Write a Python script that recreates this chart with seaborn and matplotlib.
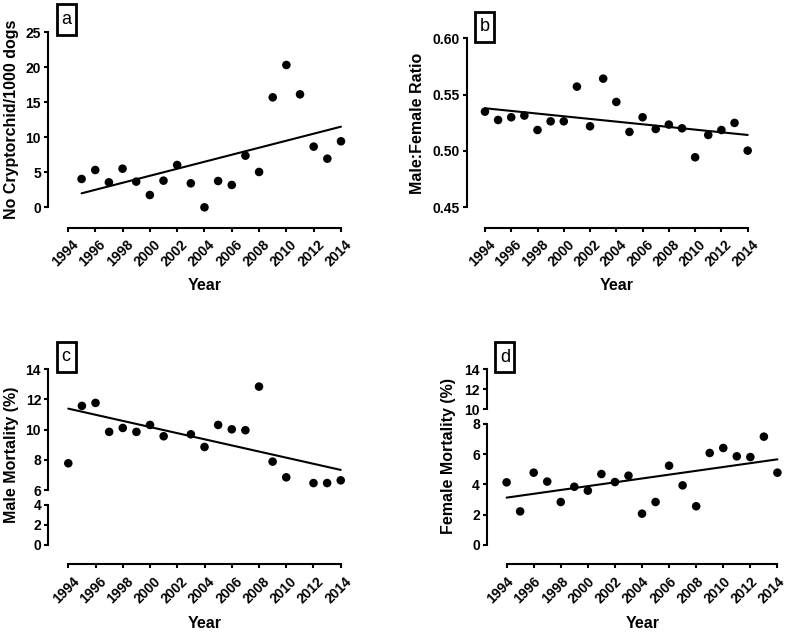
import numpy as np
import pandas as pd
import seaborn as sns
import matplotlib.pyplot as plt
from matplotlib.patches import Rectangle
from matplotlib.transforms import ScaledTranslation

# ---- data ----
crypto_years = list(range(1995, 2015))
crypto_rate = [4.05, 5.33, 3.57, 5.52, 3.67, 1.76, 3.81, 6.05, 3.43, 0.0,
               3.76, 3.19, 7.38, 5.05, 15.71, 20.33, 16.14, 8.67, 6.95, 9.43]
crypto_trend_years = [1995, 2014]
crypto_trend = [2.0, 11.52]

ratio_years = list(range(1994, 2015))
ratio_vals = [0.5349, 0.5275, 0.5299, 0.5314, 0.5186, 0.5263, 0.5263, 0.5571,
              0.5219, 0.5642, 0.5435, 0.5169, 0.5299, 0.5195, 0.5234, 0.5201,
              0.4944, 0.5142, 0.5186, 0.5249, 0.5003]
ratio_trend_years = [1994, 2014]
ratio_trend = [0.5379, 0.5142]

male_years = [1994, 1995, 1996, 1997, 1998, 1999, 2000, 2001, 2003, 2004,
              2005, 2006, 2007, 2008, 2009, 2010, 2012, 2013, 2014]
male_mort = [7.77, 11.57, 11.77, 9.85, 10.11, 9.85, 10.31, 9.56, 9.69, 8.85,
             10.31, 10.02, 9.96, 12.85, 7.88, 6.84, 6.46, 6.46, 6.64]
male_trend_years = [1994, 2014]
male_trend = [11.39, 7.33]

female_years = list(range(1994, 2015))
female_mort = [4.14, 2.22, 4.78, 4.19, 2.84, 3.85, 3.59, 4.69, 4.16, 4.58,
               2.07, 2.84, 5.24, 3.94, 2.56, 6.08, 6.41, 5.86, 5.81, 7.16, 4.78]
female_trend_years = [1994, 2014]
female_trend = [3.13, 5.66]

year_ticks = list(range(1994, 2015, 2))

sns.set_theme(style="ticks")
plt.rcParams["font.family"] = ["Liberation Sans", "DejaVu Sans"]
plt.rcParams["font.weight"] = "bold"

W, H = 787, 633
fig = plt.figure(figsize=(W / 100, H / 100), dpi=100)


def add_ax(left, right, top, bottom):
    return fig.add_axes([left / W, 1 - bottom / H, (right - left) / W, (bottom - top) / H])


def style(ax, xlim, ylim, yticks, ybounds, xaxis=True, xshift=2.5):
    ax.set_xlim(*xlim)
    ax.set_ylim(*ylim)
    sns.despine(ax=ax)
    for s in ("left", "bottom"):
        ax.spines[s].set_linewidth(1.5)
        ax.spines[s].set_color("black")
    ax.spines["left"].set_bounds(*ybounds)
    ax.set_yticks(yticks)
    ax.tick_params(axis="both", length=3.2, width=1.5, color="black",
                   labelsize=10, pad=1.8, labelcolor="black")
    for lab in ax.get_yticklabels():
        lab.set_fontweight("bold")
    if xaxis:
        ax.spines["bottom"].set_bounds(1994, 2014)
        ax.set_xticks(year_ticks)
        ax.set_xticklabels([str(y) for y in year_ticks], rotation=45, ha="right",
                           va="top", rotation_mode="anchor", fontweight="bold")
        off = ScaledTranslation(xshift / 72, -2 / 72, fig.dpi_scale_trans)
        for lab in ax.get_xticklabels():
            lab.set_transform(lab.get_transform() + off)
    else:
        ax.spines["bottom"].set_visible(False)
        ax.set_xticks([])
    ax.set_xlabel("")
    ax.set_ylabel("")
    ax.patch.set_alpha(0)


def points(ax, x, y, tx, ty):
    sns.scatterplot(x=x, y=y, ax=ax, color="black", s=38, edgecolor="none",
                    clip_on=False, zorder=3)
    sns.lineplot(x=tx, y=ty, ax=ax, color="black", linewidth=1.5)


# panel a
ax_a = add_ax(48, 350, 28.8, 227.7)
points(ax_a, crypto_years, crypto_rate, crypto_trend_years, crypto_trend)
style(ax_a, (1992.54, 2014.66), (-2.91, 25.5), [0, 5, 10, 15, 20, 25], (0, 25))

# panel b
ax_b = add_ax(466.7, 757, 34, 227.7)
points(ax_b, ratio_years, ratio_vals, ratio_trend_years, ratio_trend)
style(ax_b, (1992.61, 2014.71), (0.4319, 0.6038), [0.45, 0.50, 0.55, 0.60], (0.45, 0.60))
ax_b.set_yticklabels(["0.45", "0.50", "0.55", "0.60"], fontweight="bold")

# panel c (broken axis)
ax_c1 = add_ax(48, 350, 365, 490)
points(ax_c1, male_years, male_mort, male_trend_years, male_trend)
style(ax_c1, (1992.51, 2014.68), (6, 14.28), [6, 8, 10, 12, 14], (6, 14), xaxis=False)
ax_c2 = add_ax(48, 350, 503, 564.3)
style(ax_c2, (1992.51, 2014.68), (-1.93, 4.2), [0, 2, 4], (0, 4))

# panel d (broken axis)
ax_d1 = add_ax(486.7, 785, 365, 409.3)
style(ax_d1, (1992.53, 2014.56), (10, 14.43), [10, 12, 14], (10, 14), xaxis=False)
ax_d2 = add_ax(486.7, 785, 420, 564.3)
points(ax_d2, female_years, female_mort, female_trend_years, female_trend)
style(ax_d2, (1992.53, 2014.56), (-1.276, 8.26), [0, 2, 4, 6, 8], (0, 8), xshift=0)

# axis titles
lab_kw = dict(fontsize=11.5, fontweight="bold", ha="center", va="center", color="black")
fig.text(12 / W, 1 - 119.5 / H, "No Cryptorchid/1000 dogs", rotation=90, **lab_kw)
fig.text(418 / W, 1 - 123 / H, "Male:Female Ratio", rotation=90, **lab_kw)
fig.text(12 / W, 1 - 455 / H, "Male Mortality (%)", rotation=90, **lab_kw)
fig.text(449 / W, 1 - 456 / H, "Female Mortality (%)", rotation=90, **lab_kw)
for xc, yc in [(205, 285), (617, 285), (205, 623), (643, 623)]:
    fig.text(xc / W, 1 - yc / H, "Year", **lab_kw)

# panel letters in boxes
for letter, xc, yc in [("a", 66, 19.5), ("b", 485, 26.7), ("c", 66, 356.7), ("d", 505, 357)]:
    fig.patches.append(Rectangle(((xc - 9.5) / W, 1 - (yc + 15) / H), 19 / W, 30 / H,
                                 transform=fig.transFigure, fill=False,
                                 edgecolor="black", linewidth=2))
    fig.text(xc / W, 1 - yc / H, letter, fontsize=13, fontweight="normal",
             ha="center", va="center", color="black")

fig.savefig("out.png", dpi=100)
